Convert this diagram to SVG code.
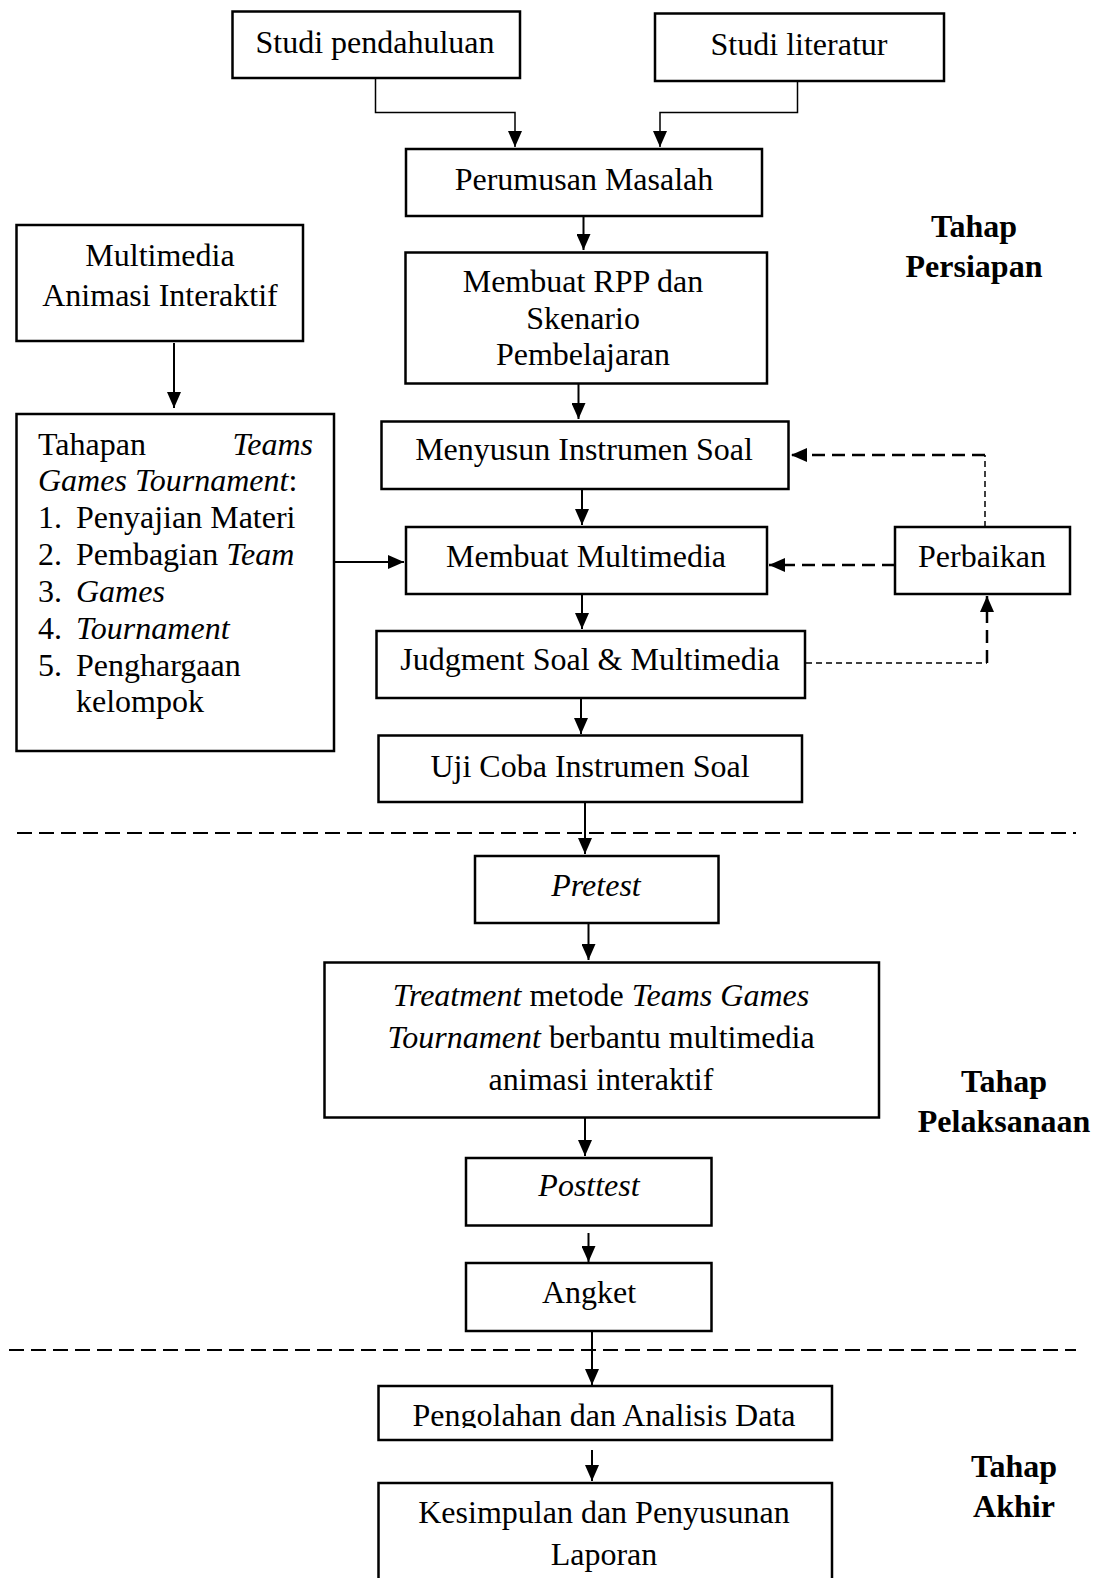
<svg xmlns="http://www.w3.org/2000/svg" width="1099" height="1578" viewBox="0 0 1099 1578">
<style>
text{font-family:"Liberation Serif","Times New Roman",serif;font-size:32px;fill:#000}
.c{text-anchor:middle}
.b{font-weight:bold}
.i{font-style:italic}
.box{fill:#fff;stroke:#000;stroke-width:2.5}
.ln{fill:none;stroke:#000;stroke-width:2}
.thin{fill:none;stroke:#000;stroke-width:1.5}
.dThick{fill:none;stroke:#000;stroke-width:2.5;stroke-dasharray:13 7}
.dThin{fill:none;stroke:#000;stroke-width:1.5;stroke-dasharray:6 4}
.sep{fill:none;stroke:#000;stroke-width:2;stroke-dasharray:15 7}
</style>
<defs>
<marker id="arr" markerUnits="userSpaceOnUse" markerWidth="16" markerHeight="14" refX="16" refY="7" orient="auto" viewBox="0 0 16 14">
<path d="M0,0 L16,7 L0,14 z" fill="#000"/>
</marker>
<clipPath id="clipPeng"><rect x="378" y="1386" width="455" height="42"/></clipPath>
</defs>

<g id="connectors">
<path class="thin" d="M375.5,78 V112.5 H515 V147" marker-end="url(#arr)"/>
<path class="thin" d="M797.5,81 V112.5 H660 V147" marker-end="url(#arr)"/>
<path class="ln" d="M583.5,216 V250" marker-end="url(#arr)"/>
<path class="ln" d="M578.5,383.5 V419" marker-end="url(#arr)"/>
<path class="ln" d="M582,489 V525" marker-end="url(#arr)"/>
<path class="ln" d="M582,594 V629" marker-end="url(#arr)"/>
<path class="ln" d="M581,698 V734" marker-end="url(#arr)"/>
<path class="ln" d="M174,343 V408" marker-end="url(#arr)"/>
<path class="ln" d="M334,562 H404" marker-end="url(#arr)"/>
<path class="dThin" d="M985,527 V455"/>
<path class="dThick" d="M985,455 H791" marker-end="url(#arr)"/>
<path class="dThick" d="M895,565 H769" marker-end="url(#arr)"/>
<path class="dThin" d="M806,663 H987"/>
<path class="dThick" d="M987,663 V596" marker-end="url(#arr)"/>
<path class="ln" d="M585,802 V854" marker-end="url(#arr)"/>
<path class="sep" d="M17,833 H1076"/>
<path class="ln" d="M588.5,923.5 V960" marker-end="url(#arr)"/>
<path class="ln" d="M585,1118 V1156" marker-end="url(#arr)"/>
<path class="ln" d="M588.5,1233 V1262" marker-end="url(#arr)"/>
<path class="ln" d="M592,1331 V1385" marker-end="url(#arr)"/>
<path class="sep" d="M9,1350 H1076"/>
<path class="ln" d="M592,1450 V1481" marker-end="url(#arr)"/>
</g>

<g id="studi-pendahuluan">
<rect class="box" x="232.5" y="11.5" width="287.5" height="66.5"/>
<text class="c" x="375" y="53">Studi pendahuluan</text>
</g>
<g id="studi-literatur">
<rect class="box" x="655" y="13.5" width="289" height="67.5"/>
<text class="c" x="799" y="55">Studi literatur</text>
</g>
<g id="perumusan">
<rect class="box" x="406" y="149" width="356" height="67"/>
<text class="c" x="584" y="190">Perumusan Masalah</text>
</g>
<g id="tahap-persiapan">
<text class="c b" x="974" y="237">Tahap</text>
<text class="c b" x="974" y="277">Persiapan</text>
</g>
<g id="multimedia">
<rect class="box" x="16.5" y="225" width="286.5" height="116"/>
<text class="c" x="160" y="266">Multimedia</text>
<text class="c" x="160" y="306">Animasi Interaktif</text>
</g>
<g id="rpp">
<rect class="box" x="405.5" y="252.5" width="361.5" height="131"/>
<text class="c" x="583" y="292">Membuat RPP dan</text>
<text class="c" x="583" y="329">Skenario</text>
<text class="c" x="583" y="365">Pembelajaran</text>
</g>
<g id="tahapan-tgt">
<rect class="box" x="16.5" y="414" width="317.5" height="337"/>
<text x="38" y="455">Tahapan</text>
<text class="i" x="313" y="455" text-anchor="end">Teams</text>
<text x="38" y="491"><tspan class="i">Games Tournament</tspan>:</text>
<text x="38" y="528">1.</text><text x="76" y="528">Penyajian Materi</text>
<text x="38" y="565">2.</text><text x="76" y="565">Pembagian <tspan class="i">Team</tspan></text>
<text x="38" y="602">3.</text><text class="i" x="76" y="602">Games</text>
<text x="38" y="639">4.</text><text class="i" x="76" y="639">Tournament</text>
<text x="38" y="676">5.</text><text x="76" y="676">Penghargaan</text>
<text x="76" y="712">kelompok</text>
</g>
<g id="menyusun">
<rect class="box" x="381.5" y="421.5" width="407" height="67.5"/>
<text class="c" x="584" y="460">Menyusun Instrumen Soal</text>
</g>
<g id="membuat-multimedia">
<rect class="box" x="406" y="527" width="361" height="67"/>
<text class="c" x="586" y="567">Membuat Multimedia</text>
</g>
<g id="perbaikan">
<rect class="box" x="895" y="527" width="175" height="67"/>
<text class="c" x="982" y="567">Perbaikan</text>
</g>
<g id="judgment">
<rect class="box" x="376.5" y="631" width="428.5" height="67"/>
<text class="c" x="590" y="670">Judgment Soal &amp; Multimedia</text>
</g>
<g id="uji-coba">
<rect class="box" x="378.5" y="735.5" width="423.5" height="66.5"/>
<text class="c" x="590" y="777">Uji Coba Instrumen Soal</text>
</g>
<g id="pretest">
<rect class="box" x="475" y="856" width="243.5" height="67"/>
<text class="c i" x="596" y="896">Pretest</text>
</g>
<g id="treatment">
<rect class="box" x="324.5" y="962.5" width="554.5" height="155"/>
<text class="c" x="601" y="1006"><tspan class="i">Treatment</tspan> metode <tspan class="i">Teams Games</tspan></text>
<text class="c" x="601" y="1048"><tspan class="i">Tournament</tspan> berbantu multimedia</text>
<text class="c" x="601" y="1090">animasi interaktif</text>
</g>
<g id="tahap-pelaksanaan">
<text class="c b" x="1004" y="1092">Tahap</text>
<text class="c b" x="1004" y="1132">Pelaksanaan</text>
</g>
<g id="posttest">
<rect class="box" x="466" y="1158" width="245.5" height="67.5"/>
<text class="c i" x="589" y="1196">Posttest</text>
</g>
<g id="angket">
<rect class="box" x="466" y="1263" width="245.5" height="68"/>
<text class="c" x="589" y="1303">Angket</text>
</g>
<g id="pengolahan">
<rect class="box" x="378.5" y="1386" width="453.5" height="54"/>
<text class="c" x="604" y="1426" clip-path="url(#clipPeng)">Pengolahan dan Analisis Data</text>
</g>
<g id="kesimpulan">
<rect class="box" x="378.5" y="1483" width="453.5" height="110"/>
<text class="c" x="604" y="1523">Kesimpulan dan Penyusunan</text>
<text class="c" x="604" y="1565">Laporan</text>
</g>
<g id="tahap-akhir">
<text class="c b" x="1014" y="1477">Tahap</text>
<text class="c b" x="1014" y="1517">Akhir</text>
</g>
</svg>
